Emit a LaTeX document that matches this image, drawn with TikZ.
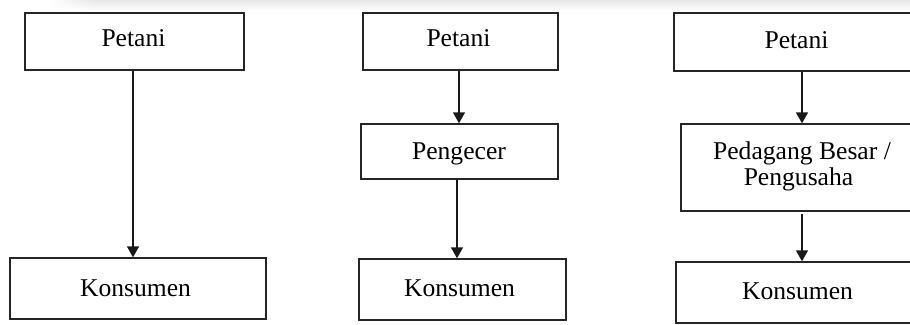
\documentclass[tikz,border=0pt]{standalone}
\usepackage{fontspec}
\setmainfont{Liberation Serif}
\usetikzlibrary{arrows.meta,fadings}
\tikzfading[name=fadein, left color=transparent!100, right color=transparent!0]

\begin{document}
\begin{tikzpicture}[x=1pt,y=-1pt,
  stage/.style={draw=black!85, line width=1.4pt, rectangle, inner sep=0pt},
  lbl/.style={anchor=base, inner sep=0pt, font=\fontsize{25.6}{26}\selectfont, text=black},
  flow/.style={draw=black!90, line width=1.4pt, -{Triangle[length=11pt,width=12pt]}}]

\useasboundingbox (0,0) rectangle (910,324);
\fill[white] (0,0) rectangle (910,324);

% soft shadow along the top edge
\shade[top color=black!9, bottom color=white] (95,0) rectangle (910,11);
\shade[top color=black!9, bottom color=white, path fading=fadein] (50,0) rectangle (95,11);

% channel 1: Petani -> Konsumen
\node[stage, minimum width=219pt, minimum height=57pt] (p1) at (134.5,41.5) {};
\node[stage, minimum width=256pt, minimum height=61pt] (k1) at (138,288.5) {};
\node[lbl] (tp1) at (133.5,46) {Petani};
\node[lbl] (tk1) at (135.5,296) {Konsumen};

% channel 2: Petani -> Pengecer -> Konsumen
\node[stage, minimum width=195pt, minimum height=57pt] (p2) at (460.5,41.5) {};
\node[stage, minimum width=197pt, minimum height=55pt] (g2) at (459.5,151.5) {};
\node[stage, minimum width=207pt, minimum height=61pt] (k2) at (462.5,289.5) {};
\node[lbl] (tp2) at (458.5,46) {Petani};
\node[lbl] (tg2) at (459,159) {Pengecer};
\node[lbl] (tk2) at (459.5,296) {Konsumen};

% channel 3: Petani -> Pedagang Besar / Pengusaha -> Konsumen
\node[stage, minimum width=241pt, minimum height=58pt] (p3) at (794.5,42) {};
\node[stage, minimum width=234pt, minimum height=87pt] (b3) at (798,167.5) {};
\node[stage, minimum width=239pt, minimum height=61pt] (k3) at (795.5,292.5) {};
\node[lbl] (tp3) at (796.5,48) {Petani};
\node[lbl] (tb3a) at (802,159) {Pedagang Besar /};
\node[lbl] (tb3b) at (798.5,185) {Pengusaha};
\node[lbl] (tk3) at (797.5,299) {Konsumen};

% vertical lines carrying the arrows
\coordinate (x1) at (133,0);
\coordinate (x2a) at (459,0);
\coordinate (x2b) at (457,0);
\coordinate (x3) at (802,0);

\draw[flow] (p1.south -| x1) -- (k1.north -| x1);
\draw[flow] (p2.south -| x2a) -- (g2.north -| x2a);
\draw[flow] (g2.south -| x2b) -- (k2.north -| x2b);
\draw[flow] (p3.south -| x3) -- (b3.north -| x3);
\draw[flow, shorten <=2pt] (b3.south -| x3) -- (k3.north -| x3);
\end{tikzpicture}
\end{document}
